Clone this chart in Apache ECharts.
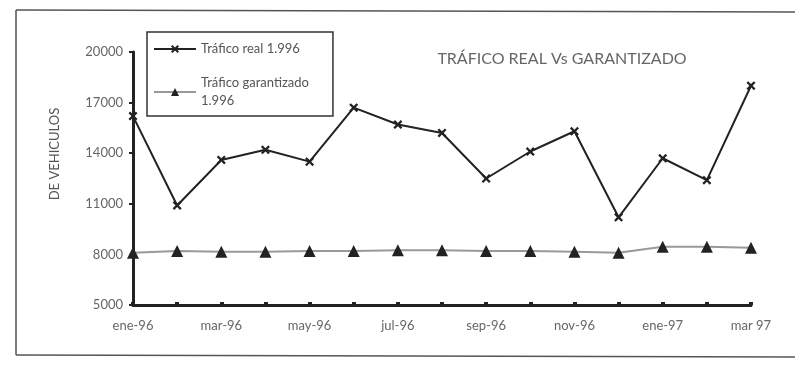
<!DOCTYPE html>
<html>
<head>
<meta charset="utf-8">
<script src="https://cdn.jsdelivr.net/npm/echarts@6/dist/echarts.min.js"></script>
<style>
  html, body { margin: 0; padding: 0; background: #fff; }
  #chart { width: 795px; height: 366px; }
</style>
</head>
<body>
<div id="chart"></div>
<script>
const months = ["ene-96", "feb-96", "mar-96", "abr-96", "may-96", "jun-96", "jul-96", "ago-96",
  "sep-96", "oct-96", "nov-96", "dic-96", "ene-97", "feb-97", "mar 97"];
const traficoReal = [16200, 10900, 13600, 14200, 13500, 16700, 15700, 15200,
  12500, 14100, 15300, 10200, 13700, 12400, 18000];
const traficoGarantizado = [8100, 8200, 8150, 8150, 8200, 8200, 8250, 8250,
  8200, 8200, 8150, 8100, 8450, 8450, 8400];

const font = "Lato, 'Noto Sans', sans-serif";
const crossIcon = "path://M0,1.8L1.8,0L5,3.2L8.2,0L10,1.8L6.8,5L10,8.2L8.2,10L5,6.8L1.8,10L0,8.2L3.2,5Z";

const chart = echarts.init(document.getElementById("chart"));
chart.setOption({
  animation: false,
  backgroundColor: "#fff",
  textStyle: { fontFamily: font },
  grid: { left: 133, right: 44, top: 52, bottom: 61 },
  graphic: [
    // frame of the scanned figure
    { type: "line", shape: { x1: 16, y1: 10, x2: 795, y2: 12 }, style: { stroke: "#555", lineWidth: 1.5 } },
    { type: "line", shape: { x1: 16, y1: 10, x2: 16, y2: 355 }, style: { stroke: "#555", lineWidth: 1.5 } },
    { type: "line", shape: { x1: 16, y1: 355, x2: 795, y2: 357 }, style: { stroke: "#555", lineWidth: 1.5 } },
    {
      type: "text", x: 55, y: 154, rotation: Math.PI / 2,
      style: { text: "DE VEHICULOS", fill: "#555", font: "13px " + font, align: "center", verticalAlign: "middle" }
    },
    {
      type: "text", x: 562, y: 59,
      style: { text: "TRÁFICO REAL Vs GARANTIZADO", fill: "#666", font: "16px " + font, align: "center", verticalAlign: "middle" }
    }
  ],
  legend: {
    orient: "vertical",
    left: 147,
    top: 32,
    padding: [8, 24, 6, 6],
    itemGap: 16,
    itemWidth: 42,
    itemHeight: 10,
    borderColor: "#333",
    borderWidth: 1.5,
    textStyle: { color: "#555", fontSize: 13, fontFamily: font, lineHeight: 18 },
    data: ["Tráfico real 1.996", "Tráfico garantizado\n1.996"]
  },
  xAxis: {
    type: "category",
    data: months,
    boundaryGap: false,
    axisLine: { lineStyle: { color: "#222", width: 3 } },
    axisTick: { show: true, interval: 0, inside: true, length: 3, lineStyle: { color: "#222", width: 4 } },
    axisLabel: { interval: 1, color: "#666", fontSize: 13, margin: 14, fontFamily: font }
  },
  yAxis: {
    type: "value",
    min: 5000,
    max: 20000,
    interval: 3000,
    splitLine: { show: false },
    axisLine: { show: true, lineStyle: { color: "#222", width: 3 } },
    axisTick: { show: true, length: 4, lineStyle: { color: "#222", width: 2 } },
    axisLabel: { color: "#666", fontSize: 13, margin: 10, fontFamily: font, formatter: (v) => String(v) }
  },
  series: [
    {
      name: "Tráfico real 1.996",
      type: "line",
      data: traficoReal,
      symbol: crossIcon,
      symbolSize: 9,
      lineStyle: { color: "#222", width: 2 },
      itemStyle: { color: "#222" }
    },
    {
      name: "Tráfico garantizado\n1.996",
      type: "line",
      data: traficoGarantizado,
      symbol: "triangle",
      symbolSize: 12,
      lineStyle: { color: "#999", width: 2 },
      itemStyle: { color: "#222" }
    }
  ]
});
</script>
</body>
</html>
